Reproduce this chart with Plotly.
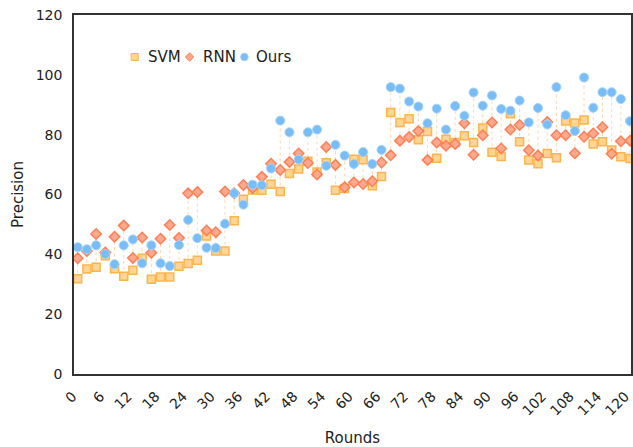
import plotly.graph_objects as go

rounds = list(range(0, 121, 2))

svm = [31.8, 35.1, 35.7, 39.5, 35.2, 32.7, 34.7, 38.7, 31.7, 32.4,
       32.4, 36.0, 36.9, 38.0, 46.1, 41.1, 41.1, 51.2, 58.4, 61.5,
       61.4, 63.4, 61.0, 67.0, 68.5, 71.1, 67.5, 70.6, 61.4, 62.0,
       71.8, 71.6, 62.9, 66.0, 87.4, 84.1, 85.3, 78.3, 81.1, 72.1,
       78.5, 77.4, 79.6, 77.4, 82.2, 74.1, 72.7, 87.0, 77.6, 71.5,
       70.3, 73.7, 72.3, 84.6, 83.9, 84.9, 76.9, 77.6, 74.9, 72.6,
       72.0]

rnn = [38.7, 41.1, 46.8, 40.6, 45.9, 49.6, 38.8, 45.6, 40.5, 45.2,
       49.8, 45.5, 60.4, 60.8, 48.0, 47.4, 61.0, 60.4, 63.2, 62.2,
       65.9, 70.3, 68.2, 70.9, 73.7, 70.5, 66.7, 75.9, 69.9, 62.4,
       64.0, 63.5, 64.4, 70.7, 73.1, 78.0, 79.2, 81.2, 71.5, 77.4,
       76.3, 76.9, 83.8, 73.3, 79.8, 84.1, 75.4, 81.7, 83.2, 74.8,
       73.0, 84.2, 79.8, 79.8, 73.8, 79.3, 80.4, 82.5, 73.6, 77.8,
       78.0]

ours = [42.4, 41.7, 43.0, 40.1, 36.7, 43.0, 45.0, 37.0, 43.0, 37.0,
        36.1, 43.1, 51.5, 45.4, 42.2, 42.1, 50.2, 60.4, 56.6, 63.3,
        63.1, 68.7, 84.7, 80.8, 71.7, 80.8, 81.7, 69.6, 76.6, 73.0,
        70.2, 74.2, 70.2, 74.9, 95.9, 95.4, 91.1, 89.4, 83.8, 88.7,
        81.7, 89.6, 86.3, 94.1, 89.7, 93.1, 88.6, 88.0, 91.4, 84.1,
        88.9, 83.4, 95.9, 86.5, 81.2, 99.1, 89.0, 94.2, 94.2, 91.9,
        84.5]

series_names = ["SVM", "RNN", "Ours"]

x_ticks = list(range(0, 121, 6))
y_ticks = [0, 20, 40, 60, 80, 100, 120]

FONT = "DejaVu Sans, Verdana, sans-serif"

SVM_FILL, SVM_EDGE = "#FFD596", "#FFB54C"
RNN_FILL, RNN_EDGE = "#FFA98C", "#FF7F56"
OURS_FILL, OURS_EDGE = "#78BDF7", "#A5D3FA"

# vertical connector lines (min to max at each round)
lx, ly = [], []
for r, a, b, c in zip(rounds, svm, rnn, ours):
    lx += [r, r, None]
    ly += [min(a, b, c), max(a, b, c), None]

fig = go.Figure()
fig.add_trace(go.Scatter(
    x=lx, y=ly, mode="lines", showlegend=False, hoverinfo="skip",
    line=dict(color="rgba(255,190,120,0.6)", width=1, dash="dot"),
))
fig.add_trace(go.Scatter(x=rounds, y=svm, mode="markers", name=series_names[0],
                         marker=dict(symbol="square", size=8, color=SVM_FILL,
                                     line=dict(color=SVM_EDGE, width=1.5))))
fig.add_trace(go.Scatter(x=rounds, y=rnn, mode="markers", name=series_names[1],
                         marker=dict(symbol="diamond", size=8, color=RNN_FILL,
                                     line=dict(color=RNN_EDGE, width=1.5))))
fig.add_trace(go.Scatter(x=rounds, y=ours, mode="markers", name=series_names[2],
                         marker=dict(symbol="circle", size=9, color=OURS_FILL,
                                     line=dict(color=OURS_EDGE, width=1))))

# compact legend (glyph + label) drawn in paper space
LEG_Y = 0.883
shapes = [
    dict(type="rect", xref="paper", yref="paper", xsizemode="pixel", ysizemode="pixel",
         xanchor=0.109, yanchor=LEG_Y, x0=-3.5, x1=3.5, y0=-3.5, y1=3.5,
         fillcolor=SVM_FILL, line=dict(color=SVM_EDGE, width=1)),
    dict(type="path", xref="paper", yref="paper", xsizemode="pixel", ysizemode="pixel",
         xanchor=0.2075, yanchor=LEG_Y, path="M0,4.2 L4.2,0 L0,-4.2 L-4.2,0 Z",
         fillcolor=RNN_FILL, line=dict(color=RNN_EDGE, width=1)),
    dict(type="circle", xref="paper", yref="paper", xsizemode="pixel", ysizemode="pixel",
         xanchor=0.3059, yanchor=LEG_Y, x0=-3.8, x1=3.8, y0=-3.8, y1=3.8,
         fillcolor=OURS_FILL, line=dict(color=OURS_EDGE, width=1)),
]
annotations = [
    dict(text=name, xref="paper", yref="paper", x=xp, y=LEG_Y, xanchor="left",
         yanchor="middle", showarrow=False,
         font=dict(family=FONT, size=15, color="#222222"))
    for name, xp in zip(series_names, [0.1288, 0.2272, 0.3238])
]

axis_common = dict(
    showline=True, linecolor="#333333", linewidth=1.5, mirror=True,
    showgrid=False, zeroline=False,
    ticks="outside", tickcolor="rgba(0,0,0,0)", ticklen=7,
    tickfont=dict(family=FONT, size=14, color="#222222"),
)

fig.update_layout(
    width=633, height=447,
    margin=dict(l=74, r=0, t=15, b=73),
    paper_bgcolor="white", plot_bgcolor="white",
    font=dict(family=FONT, size=14, color="#222222"),
    showlegend=False,
    shapes=shapes,
    annotations=annotations,
    xaxis=dict(
        range=[-0.8, 120.2], tickvals=x_ticks, ticktext=[str(v) for v in x_ticks],
        tickangle=-45, ticklabelshift=-5, ticklabeloverflow="allow",
        title=dict(text="Rounds", font=dict(family=FONT, size=15), standoff=18),
        **axis_common,
    ),
    yaxis=dict(
        range=[0, 120], tickvals=y_ticks,
        title=dict(text="Precision", font=dict(family=FONT, size=15), standoff=8),
        **axis_common,
    ),
)

fig.write_html("out.html")
